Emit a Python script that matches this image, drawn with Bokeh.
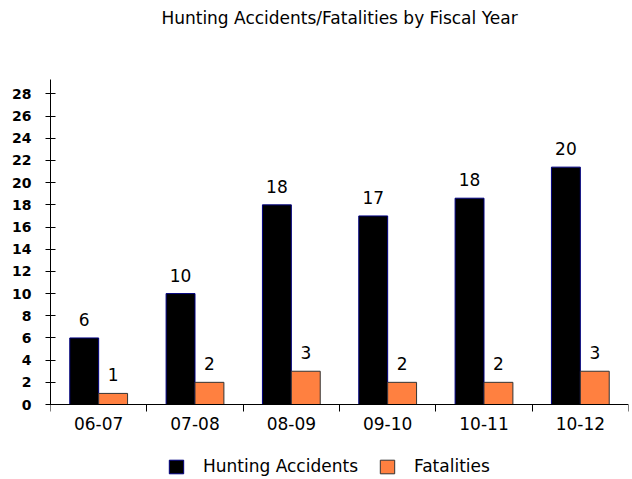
from bokeh.plotting import figure
from bokeh.models import ColumnDataSource, FixedTicker, Legend, LegendItem, Range1d, Title
from bokeh.core.properties import value
from bokeh.embed import file_html
from bokeh.resources import INLINE

categories = ["06-07", "07-08", "08-09", "09-10", "10-11", "10-12"]
accidents = [6, 10, 18, 17, 18.6, 21.4]
accident_labels = ["6", "10", "18", "17", "18", "20"]
fatalities = [1, 2, 3, 2, 2, 3]
fatality_labels = ["1", "2", "3", "2", "2", "3"]
y_ticks = list(range(0, 29, 2))
title_text = "Hunting Accidents/Fatalities by Fiscal Year"

FONT = "DejaVu Sans"
idx = list(range(len(categories)))
src = ColumnDataSource(dict(
    xa=[i + 0.5 - 0.15 for i in idx],
    xf=[i + 0.5 + 0.15 for i in idx],
    acc=accidents, fat=fatalities,
    acc_lab=accident_labels, fat_lab=fatality_labels,
))

p = figure(width=632, height=479, output_backend="svg", toolbar_location=None,
           x_range=Range1d(0, 6), y_range=Range1d(-6.76, 29.3),
           min_border_left=50, min_border_right=4, min_border_top=79, min_border_bottom=0)
p.title = None
# spacer (closest to the frame), then the real title above it
p.add_layout(Title(text=" ", text_font=FONT, text_font_size="17px", standoff=28), "above")
p.add_layout(Title(text=title_text, align="center", vertical_align="top", standoff=0,
                   text_font=FONT, text_font_size="17px", text_font_style="normal",
                   text_color="black"), "above")
p.outline_line_color = None
p.xgrid.grid_line_color = None
p.ygrid.grid_line_color = None

ra = p.vbar(x="xa", top="acc", width=0.30, source=src, fill_color="black", line_color="#000080")
rf = p.vbar(x="xf", top="fat", width=0.30, source=src, fill_color="#FF8040", line_color="#333333")

p.text(x="xa", y="acc", text="acc_lab", source=src, text_align="center", text_baseline="bottom",
       y_offset=-12, text_font=value(FONT), text_font_size="17px", text_color="black")
p.text(x="xf", y="fat", text="fat_lab", source=src, text_align="center", text_baseline="bottom",
       y_offset=-12, text_font=value(FONT), text_font_size="17px", text_color="black")

# y axis
ya = p.yaxis[0]
ya.ticker = FixedTicker(ticks=y_ticks)
ya.bounds = (0, 29.3)
ya.major_tick_in = 5
ya.major_tick_out = 5
ya.minor_tick_line_color = None
ya.major_label_text_font = FONT
ya.major_label_text_font_style = "bold"
ya.major_label_text_font_size = "14px"
ya.major_label_text_color = "black"
ya.major_label_standoff = 14
ya.axis_line_color = "black"
ya.major_tick_line_color = "black"

# x axis: labels at centers, ticks at boundaries, drawn at y = 0
xa = p.xaxis[0]
xa.fixed_location = 0
xa.ticker = FixedTicker(ticks=[i + 0.5 for i in idx], minor_ticks=list(range(len(categories) + 1)))
xa.major_label_overrides = {i + 0.5: c for i, c in zip(idx, categories)}
xa.major_tick_line_color = None
xa.major_tick_in = 0
xa.major_tick_out = 0
xa.minor_tick_in = 0
xa.minor_tick_out = 7
xa.minor_tick_line_color = "black"
xa.axis_line_color = "black"
xa.major_label_text_font = FONT
xa.major_label_text_font_size = "17px"
xa.major_label_text_color = "black"
xa.major_label_standoff = 5

legend = Legend(items=[LegendItem(label="Hunting Accidents", renderers=[ra]),
                       LegendItem(label="Fatalities", renderers=[rf])],
                orientation="horizontal", location=(117, 3),
                glyph_width=18, glyph_height=17, label_standoff=18, spacing=20,
                padding=0, margin=0, border_line_color=None, background_fill_alpha=0,
                label_text_font=FONT, label_text_font_size="17px", label_text_color="black")
p.add_layout(legend, "center")

open("out.html", "w").write(file_html(p, INLINE))
